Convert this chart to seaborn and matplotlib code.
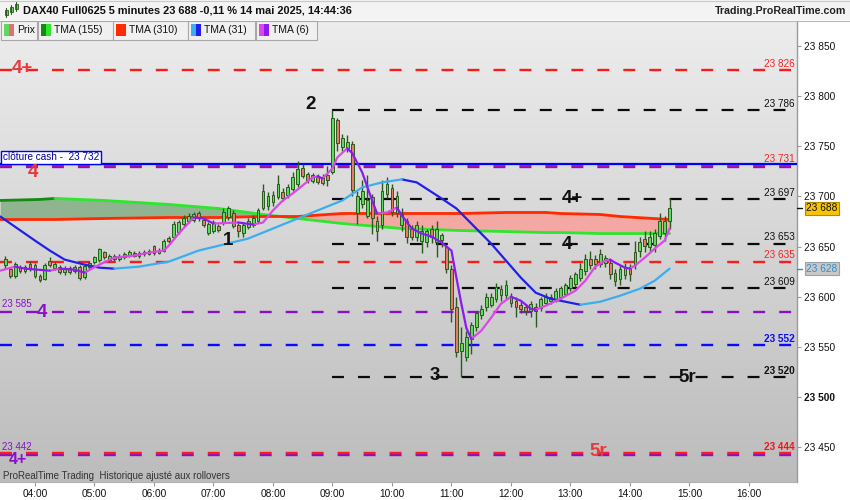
import numpy as np
import pandas as pd
import matplotlib
matplotlib.use("Agg")
import matplotlib.pyplot as plt
from matplotlib.patches import Rectangle
import seaborn as sns

# ---------------- data ----------------
bar_start = "03:30"
bar_step_min = 5
opens = [23632, 23628, 23621, 23630, 23626, 23633, 23621, 23621, 23618, 23636,
         23629, 23630, 23625, 23629, 23626, 23630, 23620, 23630, 23635, 23637,
         23645, 23637, 23641, 23638, 23640, 23641, 23644, 23641, 23643, 23643,
         23651, 23644, 23646, 23659, 23660, 23665, 23673, 23676, 23677, 23683,
         23677, 23664, 23666, 23671, 23674, 23679, 23683, 23672, 23664, 23670,
         23672, 23676, 23688, 23690, 23694, 23699, 23704, 23701, 23707, 23712,
         23728, 23722, 23715, 23720, 23719, 23721, 23724, 23776, 23749, 23748,
         23752, 23683, 23692, 23680, 23699, 23666, 23672, 23702, 23708, 23683,
         23672, 23676, 23668, 23660, 23656, 23655, 23668, 23655, 23657, 23650,
         23628, 23590, 23546, 23540, 23558, 23570, 23582, 23590, 23592, 23598,
         23602, 23602, 23601, 23596, 23592, 23590, 23586, 23590, 23589, 23594,
         23596, 23598, 23600, 23603, 23609, 23613, 23619, 23626, 23638, 23638,
         23633, 23634, 23634, 23624, 23618, 23622, 23630, 23632, 23646, 23658,
         23650, 23652, 23661, 23664, 23676]
highs = [23641, 23630, 23635, 23632, 23632, 23636, 23634, 23623, 23634, 23640,
         23635, 23632, 23631, 23631, 23632, 23632, 23633, 23636, 23641, 23649,
         23646, 23643, 23643, 23643, 23645, 23647, 23646, 23646, 23647, 23648,
         23652, 23649, 23658, 23661, 23676, 23677, 23681, 23683, 23684, 23685,
         23678, 23675, 23677, 23673, 23688, 23690, 23686, 23674, 23675, 23678,
         23681, 23688, 23712, 23704, 23705, 23721, 23708, 23712, 23724, 23735,
         23732, 23724, 23723, 23722, 23722, 23730, 23786, 23778, 23762, 23761,
         23755, 23705, 23716, 23721, 23702, 23680, 23716, 23719, 23712, 23705,
         23688, 23678, 23672, 23676, 23672, 23668, 23672, 23676, 23664, 23652,
         23632, 23600, 23570, 23566, 23575, 23586, 23592, 23604, 23604, 23614,
         23612, 23617, 23604, 23600, 23596, 23593, 23596, 23594, 23600, 23604,
         23603, 23609, 23611, 23614, 23622, 23625, 23634, 23643, 23646, 23642,
         23648, 23642, 23637, 23628, 23632, 23634, 23633, 23656, 23660, 23666,
         23666, 23668, 23683, 23680, 23698]
lows = [23628, 23619, 23619, 23624, 23624, 23626, 23619, 23615, 23617, 23630,
        23627, 23623, 23622, 23623, 23624, 23617, 23618, 23628, 23633, 23635,
        23638, 23635, 23636, 23636, 23638, 23640, 23640, 23639, 23641, 23642,
        23642, 23643, 23645, 23654, 23658, 23663, 23671, 23674, 23675, 23676,
        23670, 23662, 23664, 23665, 23672, 23677, 23669, 23660, 23660, 23668,
        23670, 23674, 23686, 23686, 23690, 23697, 23695, 23698, 23705, 23709,
        23718, 23713, 23713, 23712, 23711, 23710, 23722, 23745, 23745, 23744,
        23700, 23673, 23688, 23678, 23663, 23656, 23668, 23698, 23680, 23679,
        23666, 23654, 23657, 23656, 23644, 23650, 23654, 23640, 23650, 23624,
        23575, 23540, 23520, 23536, 23543, 23566, 23578, 23586, 23590, 23595,
        23596, 23598, 23590, 23580, 23584, 23582, 23580, 23570, 23586, 23592,
        23593, 23595, 23598, 23601, 23606, 23610, 23616, 23622, 23628, 23628,
        23630, 23630, 23618, 23611, 23612, 23618, 23616, 23628, 23640, 23645,
        23646, 23645, 23658, 23656, 23668]
closes = [23638, 23621, 23633, 23626, 23630, 23628, 23632, 23617, 23632, 23632,
          23633, 23625, 23629, 23625, 23630, 23619, 23631, 23634, 23640, 23648,
          23640, 23641, 23638, 23641, 23643, 23645, 23641, 23644, 23645, 23646,
          23644, 23647, 23656, 23656, 23673, 23675, 23678, 23680, 23682, 23678,
          23672, 23673, 23675, 23667, 23684, 23688, 23671, 23666, 23672, 23676,
          23678, 23686, 23705, 23700, 23701, 23712, 23698, 23709, 23719, 23727,
          23720, 23716, 23721, 23714, 23713, 23716, 23778, 23753, 23758, 23754,
          23706, 23700, 23705, 23696, 23678, 23676, 23705, 23712, 23684, 23700,
          23682, 23660, 23660, 23672, 23666, 23666, 23660, 23668, 23662, 23628,
          23588, 23545, 23554, 23560, 23572, 23584, 23588, 23600, 23600, 23610,
          23608, 23612, 23594, 23590, 23588, 23586, 23593, 23586, 23598, 23600,
          23600, 23606, 23609, 23612, 23619, 23623, 23628, 23638, 23632, 23633,
          23643, 23639, 23623, 23616, 23628, 23630, 23623, 23645, 23655, 23651,
          23660, 23664, 23676, 23676, 23688]

tma_long_times = ["03:25", "04:05", "04:20", "05:10", "06:15", "07:05", "07:50", "08:25",
                  "09:10", "10:10", "11:10", "11:55", "12:35", "12:50", "13:30", "13:50", "14:40"]
tma155 = [23696, 23697, 23698, 23696, 23692, 23688, 23682, 23678,
          23673, 23668, 23666, 23665, 23664, 23664, 23663, 23663, 23663]
tma310 = [23677, 23677, 23677, 23678, 23679, 23679, 23680, 23680,
          23683, 23683, 23683, 23684, 23684, 23683, 23682, 23680, 23677]

tma31_times = ["03:25", "04:00", "04:15", "04:30", "04:50", "05:05", "05:20", "05:45", "06:15",
               "06:45", "07:35", "08:25", "09:10", "09:30", "09:50", "10:10", "10:25", "10:50",
               "11:05", "11:25", "11:40", "11:55", "12:10", "12:25", "12:40", "12:50", "13:10",
               "13:30", "13:50", "14:10", "14:25", "14:40"]
tma31 = [23680, 23656, 23646, 23637, 23632, 23629, 23628, 23630, 23635,
         23646, 23658, 23678, 23696, 23709, 23714, 23717, 23714, 23698,
         23688, 23668, 23653, 23636, 23619, 23604, 23598, 23596, 23592,
         23595, 23601, 23608, 23616, 23628]

tma6_times = ["03:25", "03:40", "03:50", "04:15", "04:25", "04:40", "04:50", "05:05", "05:20",
              "05:40", "05:55", "06:10", "06:15", "06:25", "06:40", "06:50", "07:00", "07:25",
              "07:40", "07:50", "08:00", "08:10", "08:20", "08:30", "08:40", "08:45", "08:50",
              "09:00", "09:05", "09:15", "09:20", "09:30", "09:40", "09:45", "09:55", "10:05",
              "10:10", "10:20", "10:30", "10:40", "10:50", "11:00", "11:05", "11:10", "11:15",
              "11:20", "11:30", "11:40", "11:50", "12:00", "12:10", "12:20", "12:25", "12:35",
              "12:50", "13:05", "13:15", "13:25", "13:35", "13:40", "13:45", "13:55", "14:00",
              "14:05", "14:15", "14:25", "14:35", "14:40"]
tma6 = [23626, 23630, 23628, 23626, 23628, 23627, 23624, 23632, 23639,
        23641, 23644, 23646, 23651, 23663, 23679, 23678, 23673, 23674,
        23672, 23674, 23686, 23696, 23703, 23711, 23719, 23720, 23718,
        23728, 23739, 23748, 23743, 23724, 23696, 23683, 23684, 23689,
        23681, 23668, 23663, 23660, 23654, 23646, 23619, 23593, 23569,
        23558, 23566, 23579, 23593, 23600, 23596, 23588, 23587, 23591,
        23598, 23606, 23616, 23630, 23636, 23637, 23634, 23629, 23628,
        23631, 23639, 23648, 23656, 23668]

# horizontal levels drawn over the whole width: value, colour
full_levels = [23826, 23729, 23731, 23635, 23585, 23552, 23442, 23444]
full_colors = ["#ff1a1a", "#8a10c8", "#ff1a1a", "#ff1a1a", "#8a10c8", "#0a0aff", "#8a10c8", "#ff1a1a"]
# levels drawn from the 09:00 high onwards
pivot_start = "09:00"
pivot_levels = [23786, 23697, 23653, 23609, 23520]
cash_close = 23732

right_labels = [23826, 23786, 23731, 23697, 23653, 23635, 23609, 23552, 23520, 23444]
right_colors = ["#ff2020", "#111111", "#ff2020", "#111111", "#111111", "#ff2020", "#111111",
                "#0a0aff", "#111111", "#ff1010"]
left_labels = [23585, 23442]

wave_texts = ["4+", "4", "2", "1", "4", "3", "4+", "4", "5r", "5r", "4+"]
wave_times = ["03:47", "03:58", "08:38", "07:15", "04:07", "10:43", "13:02", "12:56", "14:58", "13:28", "03:43"]
wave_values = [23828, 23724, 23792, 23656, 23584, 23521, 23698, 23652, 23519, 23446, 23438]
wave_sizes = [13.5, 13.5, 13.5, 13.5, 13.5, 13.5, 13.5, 13.5, 13.5, 13.5, 11.5]
wave_colors = ["#e8383c", "#e8383c", "#111111", "#111111", "#8a10c8", "#111111", "#111111",
               "#111111", "#111111", "#e8383c", "#8a10c8"]

last_price = 23688
tma31_last = 23628
hour_ticks = list(range(4, 17))
price_ticks = list(range(23450, 23851, 50))


def hhmm(s):
    h, m = s.split(":")
    return int(h) + int(m) / 60.0


def fmt(v):
    return f"{int(v):,}".replace(",", " ")


# ---------------- figure ----------------
sns.set_style("white")
plt.rcParams["font.family"] = ["Liberation Sans", "DejaVu Sans"]
plt.rcParams["lines.scale_dashes"] = False

W, H = 850, 500
fig = plt.figure(figsize=(W / 100, H / 100), dpi=100)
fig.patch.set_facecolor("white")


def fx(px):
    return px / W


def fy(py):
    return 1 - py / H


ax = fig.add_axes([0, fy(482), fx(797), (482 - 21) / H])
xmin, xmax = 3.4126, 16.8076
ymin, ymax = 23415.3, 23874.9
ax.set_xlim(xmin, xmax)
ax.set_ylim(ymin, ymax)

# background gradient
grad = np.linspace(0, 1, 256).reshape(-1, 1)
top_c = np.array([237, 237, 237]) / 255
bot_c = np.array([188, 188, 188]) / 255
img = top_c[None, None, :] * (1 - grad[:, :, None]) + bot_c[None, None, :] * grad[:, :, None]
ax.imshow(img, extent=[0, 1, 0, 1], transform=ax.transAxes, aspect="auto", zorder=0)

# long TMAs and the band between them
tl = np.array([hhmm(s) for s in tma_long_times])
g = np.array(tma155, float)
r = np.array(tma310, float)
ax.fill_between(tl, g, r, where=g >= r, interpolate=True, color="#8fb48f", lw=0, zorder=1)
ax.fill_between(tl, g, r, where=g < r, interpolate=True, color="#f3a8a4", lw=0, zorder=1)


def slope_df(times, vals):
    rows = []
    run = 0
    prev = None
    for k in range(len(vals) - 1):
        if vals[k + 1] > vals[k]:
            d = "up"
        elif vals[k + 1] < vals[k]:
            d = "down"
        else:
            d = prev or "up"
        if d != prev:
            run += 1
            prev = d
        rows.append((times[k], vals[k], run, d))
        rows.append((times[k + 1], vals[k + 1], run, d))
    return pd.DataFrame(rows, columns=["t", "v", "run", "dir"])


def draw_ma(times, vals, up_c, down_c, lw, z):
    df = slope_df([hhmm(s) for s in times], vals)
    sns.lineplot(data=df, x="t", y="v", hue="dir", units="run", estimator=None,
                 palette={"up": up_c, "down": down_c}, legend=False, lw=lw,
                 ax=ax, zorder=z, sort=False)


draw_ma(tma_long_times, tma155, "#138a13", "#2ee62e", 2.0, 3)
draw_ma(tma_long_times, tma310, "#ff2a00", "#ff2a00", 2.0, 3)

# horizontal dashed levels
dash = (0, (8.6, 10.1))
for v, c in zip(full_levels, full_colors):
    ax.axhline(v, color=c, lw=1.7, ls=dash, zorder=2)
ps = hhmm(pivot_start)
for v in pivot_levels:
    ax.hlines(v, ps, xmax, color="#0a0a0a", lw=1.6, ls=dash, zorder=2)
ax.axhline(cash_close, color="#0000ff", lw=1.6, zorder=4)

# candles
n = len(opens)
t = hhmm(bar_start) + np.arange(n) * bar_step_min / 60.0
o = np.array(opens, float)
c = np.array(closes, float)
hi = np.array(highs, float)
lo = np.array(lows, float)
up = c >= o
wick = "#2b5a1c"
ax.vlines(t, lo, hi, color=wick, lw=1.0, zorder=5)
ax.bar(t, np.maximum(np.abs(c - o), 0.8), bottom=np.minimum(o, c), width=0.047,
       color=np.where(up, "#5fd85f", "#e57b68"), edgecolor=wick, linewidth=0.7, zorder=6)

# short TMAs
draw_ma(tma31_times, tma31, "#3aaef0", "#2020e8", 1.6, 7)
draw_ma(tma6_times, tma6, "#dc48e8", "#8a1af0", 1.6, 8)

# labels on levels
yt = ax.get_yaxis_transform()
for v, col in zip(right_labels, right_colors):
    bold = v in (23552, 23520, 23444)
    ax.text(0.997, v + 1.2, fmt(v), transform=yt, ha="right", va="bottom", fontsize=7.2,
            color=col, zorder=9, fontweight="bold" if bold else "normal")
for v in left_labels:
    ax.text(0.003, v + 3.0, fmt(v), transform=yt, ha="left", va="bottom", fontsize=7.0,
            color="#8a10c8", zorder=9)
ax.text(0.004, cash_close + 7, f"clôture cash -  {fmt(cash_close)}", transform=yt, ha="left",
        va="center", fontsize=7.2, color="#0000a0", zorder=10,
        bbox=dict(boxstyle="square,pad=0.18", fc="white", ec="#0000ff", lw=1))

for s, tt, v, sz, col in zip(wave_texts, wave_times, wave_values, wave_sizes, wave_colors):
    ax.text(hhmm(tt), v, s, ha="center", va="center", fontsize=sz, fontweight="bold",
            color=col, zorder=11)

# axes styling
for side in ("top", "left"):
    ax.spines[side].set_visible(False)
ax.spines["right"].set_color("#9a9a9a")
ax.spines["bottom"].set_color("#b0b0b0")
ax.spines["right"].set_linewidth(1.0)
ax.spines["bottom"].set_linewidth(0.8)
ax.yaxis.tick_right()
ax.set_yticks(price_ticks)
ax.set_yticklabels([fmt(v) for v in price_ticks])
for lab in ax.get_yticklabels():
    if lab.get_text() == "23 500":
        lab.set_fontweight("bold")
ax.set_xticks(hour_ticks)
ax.set_xticklabels([f"{h:02d}:00" for h in hour_ticks])
ax.tick_params(axis="y", which="both", right=True, left=False, length=3, width=0.8,
               color="#9a9a9a", labelsize=7.3, pad=2, labelcolor="#111111")
ax.tick_params(axis="x", which="both", bottom=True, length=3, width=0.8, color="#9a9a9a",
               labelsize=7.3, pad=2, labelcolor="#111111")
ax.set_xlabel("")
ax.set_ylabel("")
ax.grid(False)

# current price and TMA(31) boxes on the price axis
ax.text(1.0115, last_price, fmt(last_price), transform=yt, ha="left", va="center", fontsize=7.3,
        color="#111111", clip_on=False, zorder=12,
        bbox=dict(boxstyle="square,pad=0.15", fc="#f6c400", ec="#b08a00", lw=0.8))
ax.text(1.0115, tma31_last, fmt(tma31_last), transform=yt, ha="left", va="center", fontsize=7.3,
        color="#2a8fd0", clip_on=False, zorder=12,
        bbox=dict(boxstyle="square,pad=0.15", fc="#c8c8c8", ec="#a0a0a0", lw=0.8))
ax.plot([1.0, 1.0065], [last_price, last_price], transform=yt, color="#111111", lw=1,
        clip_on=False, zorder=12)
ax.plot([1.0, 1.0065], [tma31_last, tma31_last], transform=yt, color="#2a8fd0", lw=1,
        clip_on=False, zorder=12)

# bottom text
fig.text(fx(3), fy(476), "ProRealTime Trading  Historique ajusté aux rollovers", fontsize=7.0,
         color="#333333", va="center", ha="left",
         family=["Liberation Sans Narrow", "Liberation Sans", "DejaVu Sans"])

# header bar
fig.patches.append(Rectangle((0, fy(20)), 1, 20 / H, transform=fig.transFigure,
                             fc="#f3f3f3", ec="none", zorder=0))
fig.lines.append(plt.Line2D([0, 1], [fy(20.5), fy(20.5)], transform=fig.transFigure,
                            color="#b8b8b8", lw=0.8))
fig.lines.append(plt.Line2D([0, 1], [fy(0.5), fy(0.5)], transform=fig.transFigure,
                            color="#c8c8c8", lw=0.8))
fig.text(fx(23), fy(10.5), "DAX40 Full0625 5 minutes 23 688 -0,11 % 14 mai 2025, 14:44:36",
         fontsize=7.9, fontweight="bold", color="#111111", va="center", ha="left")
fig.text(fx(846), fy(10.5), "Trading.ProRealTime.com", fontsize=7.7, fontweight="bold",
         color="#222222", va="center", ha="right")
# small candle icon
for cx, b0, b1, w0, w1 in [(6, 10, 15, 8, 17), (11, 7, 12, 5, 14), (16, 4, 9, 2, 11)]:
    fig.lines.append(plt.Line2D([fx(cx), fx(cx)], [fy(w1), fy(w0)], transform=fig.transFigure,
                                color="#2b5a1c", lw=0.8))
    fig.patches.append(Rectangle((fx(cx - 1.5), fy(b1)), 3 / W, (b1 - b0) / H,
                                 transform=fig.transFigure, fc="#5fd85f", ec="#2b5a1c", lw=0.6))

# legend row
legend_items = [
    ("Prix", 1, 37, ["#5fd85f", "#e07070"]),
    ("TMA (155)", 38, 113, ["#138a13", "#2ee62e"]),
    ("TMA (310)", 113, 188, ["#ff2a00", "#ff2a00"]),
    ("TMA (31)", 188, 255, ["#3aaef0", "#2020e8"]),
    ("TMA (6)", 256, 317, ["#dc48e8", "#8a1af0"]),
]
for label, x0, x1, cols in legend_items:
    fig.patches.append(Rectangle((fx(x0), fy(40)), (x1 - x0) / W, 19 / H,
                                 transform=fig.transFigure, fc="#f0f0f0", ec="#a8a8a8",
                                 lw=0.8, zorder=20))
    for k, col in enumerate(cols):
        fig.patches.append(Rectangle((fx(x0 + 3 + 5 * k), fy(36)), 5 / W, 12 / H,
                                     transform=fig.transFigure, fc=col, ec="none", zorder=21))
    fig.text(fx(x0 + 16), fy(30), label, fontsize=7.5, color="#111111", va="center",
             ha="left", zorder=22)

fig.savefig("out.png", dpi=100)
